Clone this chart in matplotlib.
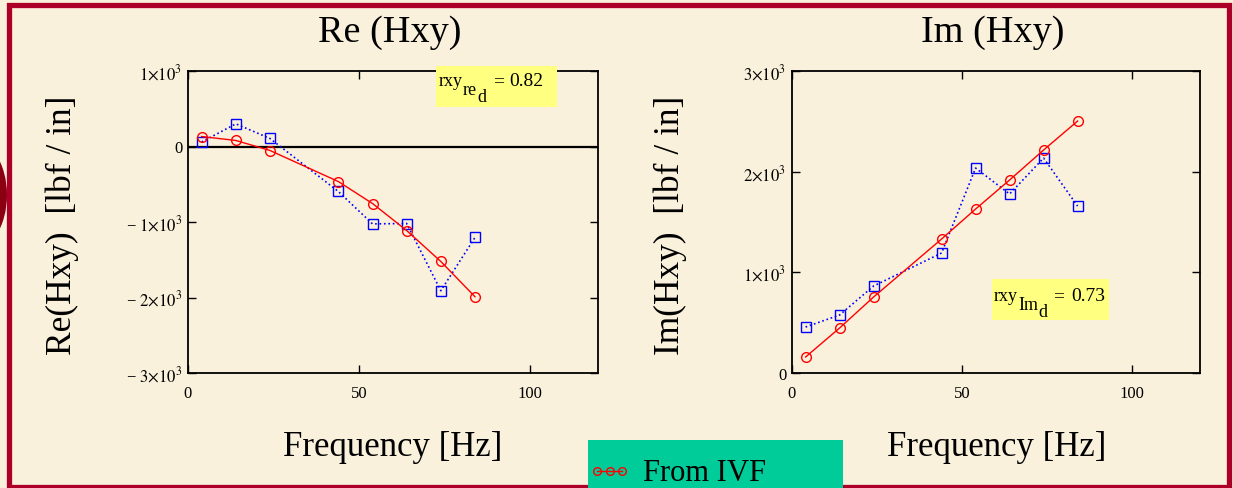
import numpy as np
import matplotlib
matplotlib.use('Agg')
import matplotlib.pyplot as plt
from matplotlib.patches import Rectangle, Ellipse
from matplotlib.lines import Line2D
from matplotlib.ticker import FuncFormatter

# Frequencies [Hz]
freq = [4, 14, 24, 44, 54, 64, 74, 84]

# Real part of Hxy [lbf/in]
re_ivf = [132, 80, -53, -464, -755, -1113, -1523, -1990]
re_meas = [60, 300, 106, -596, -1025, -1020, -1910, -1205]

# Imaginary part of Hxy [lbf/in]
im_ivf = [159, 447, 755, 1331, 1629, 1917, 2215, 2503]
im_meas = [457, 576, 864, 1192, 2036, 1778, 2135, 1658]

re_yticks = [-3000, -2000, -1000, 0, 1000]
im_yticks = [0, 1000, 2000, 3000]
xticks = [0, 50, 100]

rxy_re = 0.82
rxy_im = 0.73

plt.rcParams['font.family'] = ['Liberation Serif', 'DejaVu Serif']
plt.rcParams['mathtext.fontset'] = 'stix'

W, H = 1233, 489
BG = '#faf1dc'
DARKRED = '#ad0029'


def fx(px):
    return px / W


def fy(py):
    return 1 - py / H


def sci_fmt(v, pos):
    if v == 0:
        return '0'
    m = int(round(abs(v) / 1000))
    s = r'$%d{\times}10^{3}$' % m
    if v < 0:
        s = '\u2212 ' + s
    return s


def style_axes(ax, yticks, ylim):
    ax.set_facecolor('none')
    ax.set_xlim(0, 120)
    ax.set_ylim(*ylim)
    ax.set_xticks(xticks)
    ax.set_yticks(yticks)
    ax.yaxis.set_major_formatter(FuncFormatter(sci_fmt))
    ax.tick_params(direction='in', top=True, right=True, length=6,
                   width=1.0, labelsize=12, pad=4)
    ax.tick_params(axis='x', pad=9)
    for sp in ax.spines.values():
        sp.set_linewidth(1.3)


def rxy_label(x0, base, sub, x_sub, x_d, x_eq, x_val, val):
    fig.text(fx(x0), fy(base), 'rxy', fontsize=13, va='baseline', zorder=3)
    fig.text(fx(x_sub), fy(base + 9), sub, fontsize=13, va='baseline', zorder=3)
    fig.text(fx(x_d), fy(base + 16), 'd', fontsize=13, va='baseline', zorder=3)
    fig.text(fx(x_eq), fy(base), '=', fontsize=14, va='baseline', zorder=3)
    fig.text(fx(x_val), fy(base), '%.2f' % val, fontsize=14, va='baseline',
             zorder=3)


fig = plt.figure(figsize=(W / 100, H / 100), dpi=100, facecolor=BG)

# slide decoration: dark red arc on the left and the frame
fig.patches.append(Ellipse((fx(-30), fy(196)), fx(74), 114 / H,
                           transform=fig.transFigure, facecolor='#8a0012',
                           edgecolor='none', zorder=0))
fig.patches.append(Rectangle((fx(8.5), fy(487.5)), fx(1220), 481.5 / H,
                             transform=fig.transFigure, fill=False,
                             edgecolor=DARKRED, linewidth=3.8, zorder=1))

ax1 = fig.add_axes([fx(188), fy(374), fx(410), 302 / H])
ax2 = fig.add_axes([fx(792), fy(374), fx(408), 302 / H])

# Re(Hxy)
ax1.axhline(0, color='black', linewidth=1.6, zorder=1)
ax1.plot(freq, re_ivf, '-o', color='red', linewidth=1.0, markersize=7,
         markerfacecolor='none', markeredgewidth=1.0, zorder=3)
ax1.plot(freq, re_meas, ':s', color='blue', linewidth=1.2, markersize=6.5,
         markerfacecolor='none', markeredgewidth=1.0, zorder=2)
style_axes(ax1, re_yticks, (-3000, 1000))

# Im(Hxy)
ax2.plot(freq, im_ivf, '-o', color='red', linewidth=1.0, markersize=7,
         markerfacecolor='none', markeredgewidth=1.0, zorder=3)
ax2.plot(freq, im_meas, ':s', color='blue', linewidth=1.2, markersize=6.5,
         markerfacecolor='none', markeredgewidth=1.0, zorder=2)
style_axes(ax2, im_yticks, (0, 3000))

# titles and axis labels
fig.text(fx(390), fy(33), 'Re (Hxy)', fontsize=27.5, ha='center', va='center')
fig.text(fx(993), fy(33), 'Im (Hxy)', fontsize=27.5, ha='center', va='center')
fig.text(fx(62), fy(225), 'Re(Hxy)  [lbf / in]', fontsize=25.5, rotation=90,
         ha='center', va='center')
fig.text(fx(670), fy(225), 'Im(Hxy)  [lbf / in]', fontsize=25.5, rotation=90,
         ha='center', va='center')
fig.text(fx(393), fy(447), 'Frequency [Hz]', fontsize=25, ha='center', va='center')
fig.text(fx(997), fy(447), 'Frequency [Hz]', fontsize=25, ha='center', va='center')

# correlation boxes
fig.patches.append(Rectangle((fx(436), fy(108)), fx(121), 41 / H,
                             transform=fig.transFigure, facecolor='#ffff80',
                             edgecolor='none', zorder=2))
rxy_label(439, 86, 're', 463, 477, 493, 509, rxy_re)
fig.patches.append(Rectangle((fx(992), fy(321)), fx(117), 41 / H,
                             transform=fig.transFigure, facecolor='#ffff80',
                             edgecolor='none', zorder=2))
rxy_label(994, 301, 'Im', 1018, 1038, 1053, 1071, rxy_im)

# legend box
fig.patches.append(Rectangle((fx(588), fy(492)), fx(255), 51 / H,
                             transform=fig.transFigure, facecolor='#00cc99',
                             edgecolor='none', zorder=4))
fig.lines.append(Line2D([fx(597), fx(610), fx(622)], [fy(472)] * 3,
                        transform=fig.transFigure, color='red', linewidth=1.0,
                        marker='o', markersize=5.5, markerfacecolor='none',
                        zorder=5))
fig.text(fx(643), fy(474), 'From IVF', fontsize=22, ha='left', va='center',
         zorder=5)

fig.savefig('out.png', dpi=100, facecolor=BG)
